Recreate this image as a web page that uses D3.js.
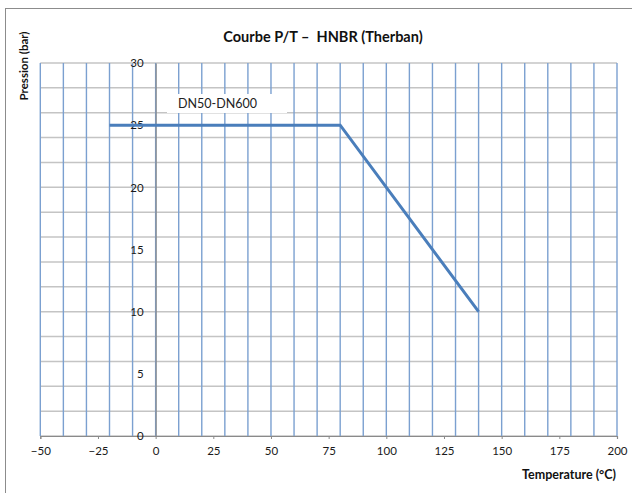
<!DOCTYPE html>
<html>
<head>
<meta charset="utf-8">
<script src="https://cdn.jsdelivr.net/npm/d3@7"></script>
<style>
  body { margin: 0; background: #fff; }
  svg { display: block; font-family: Lato, "Open Sans", sans-serif; }
</style>
</head>
<body>
<div id="chart"></div>
<script>
const SVG_WIDTH = 632;
const SVG_HEIGHT = 493;
const PLOT = { left: 40.3, right: 617, top: 63, bottom: 436 };

const TITLE = "Courbe P/T \u2013  HNBR (Therban)";
const X_AXIS_LABEL = "Temperature (°C)";
const Y_AXIS_LABEL = "Pression (bar)";
const SERIES_LABEL = "DN50-DN600";

// curve points
const temperatures = [-20, 80, 140];
const pressures = [25, 25, 10];

// axes
const xTicks = [-50, -25, 0, 25, 50, 75, 100, 125, 150, 175, 200];
const yTicks = [0, 5, 10, 15, 20, 25, 30];
const xGrid = [-50, -40, -30, -20, -10, 0, 10, 20, 30, 40, 50, 60, 70, 80, 90, 100,
               110, 120, 130, 140, 150, 160, 170, 180, 190, 200];
const yGrid = [0, 2, 4, 6, 8, 10, 12, 14, 16, 18, 20, 22, 24, 26, 28, 30];

const svg = d3.select("#chart")
    .append("svg")
    .attr("width", SVG_WIDTH)
    .attr("height", SVG_HEIGHT);

const xScale = d3.scaleLinear().domain([-50, 200]).range([PLOT.left, PLOT.right]);
const yScale = d3.scaleLinear().domain([0, 30]).range([PLOT.bottom, PLOT.top]);

// outer chart frame
svg.append("rect")
    .attr("x", 5.5).attr("y", 8.5)
    .attr("width", 640).attr("height", 500)
    .attr("fill", "none")
    .attr("stroke", "#8c8c8c")
    .attr("stroke-width", 1);

// horizontal gridlines
svg.append("g")
    .selectAll("line")
    .data(yGrid)
    .join("line")
    .attr("x1", PLOT.left).attr("x2", PLOT.right)
    .attr("y1", d => yScale(d)).attr("y2", d => yScale(d))
    .attr("stroke", "#c4c4c4")
    .attr("stroke-width", 1.5);

// vertical gridlines
svg.append("g")
    .selectAll("line")
    .data(xGrid)
    .join("line")
    .attr("x1", d => xScale(d)).attr("x2", d => xScale(d))
    .attr("y1", PLOT.top).attr("y2", PLOT.bottom)
    .attr("stroke", "#7ba0d0")
    .attr("stroke-width", 1.4);

// x axis (at y = 0)
const xAxis = d3.axisBottom(xScale)
    .tickValues(xTicks)
    .tickSize(3)
    .tickPadding(8)
    .tickFormat(d3.format("d"));

const gx = svg.append("g")
    .attr("transform", `translate(0,${yScale(0)})`)
    .call(xAxis);
gx.select(".domain").attr("stroke", "#8a8a8a").attr("stroke-width", 1.2);
gx.selectAll(".tick line").attr("stroke", "#8a8a8a");
gx.selectAll(".tick text")
    .attr("font-size", 11.5)
    .attr("fill", "#1a1a1a")
    .attr("font-family", "Lato, sans-serif");

// y axis (at x = 0)
const yAxis = d3.axisLeft(yScale)
    .tickValues(yTicks)
    .tickSize(0)
    .tickPadding(12);

const gy = svg.append("g")
    .attr("transform", `translate(${xScale(0)},0)`)
    .call(yAxis);
gy.select(".domain").attr("stroke", "#8a8a8a").attr("stroke-width", 1.2);
gy.selectAll(".tick text")
    .attr("font-size", 11.5)
    .attr("fill", "#1a1a1a")
    .attr("font-family", "Lato, sans-serif");

// series label box
const labelG = svg.append("g");
labelG.append("rect")
    .attr("x", 167).attr("y", 94)
    .attr("width", 120).attr("height", 19)
    .attr("fill", "#fff");
labelG.append("text")
    .attr("x", 178).attr("y", 108)
    .attr("font-size", 12.5)
    .attr("fill", "#222")
    .text(SERIES_LABEL);

// curve
const line = d3.line()
    .x(d => xScale(d[0]))
    .y(d => yScale(d[1]));

svg.append("path")
    .datum(d3.zip(temperatures, pressures))
    .attr("d", line)
    .attr("fill", "none")
    .attr("stroke", "#4a7ebb")
    .attr("stroke-width", 3)
    .attr("stroke-linejoin", "miter");

// titles
svg.append("text")
    .attr("x", 323).attr("y", 42)
    .attr("text-anchor", "middle")
    .attr("font-size", 14.5)
    .attr("font-weight", "bold")
    .attr("fill", "#111")
    .style("white-space", "pre")
    .text(TITLE);

svg.append("text")
    .attr("transform", "translate(28,66) rotate(-90)")
    .attr("text-anchor", "middle")
    .attr("font-size", 11.5)
    .attr("font-weight", "bold")
    .attr("fill", "#111")
    .text(Y_AXIS_LABEL);

svg.append("text")
    .attr("x", 616).attr("y", 479)
    .attr("text-anchor", "end")
    .attr("font-size", 12.5)
    .attr("font-weight", "bold")
    .attr("fill", "#111")
    .text(X_AXIS_LABEL);
</script>
</body>
</html>
